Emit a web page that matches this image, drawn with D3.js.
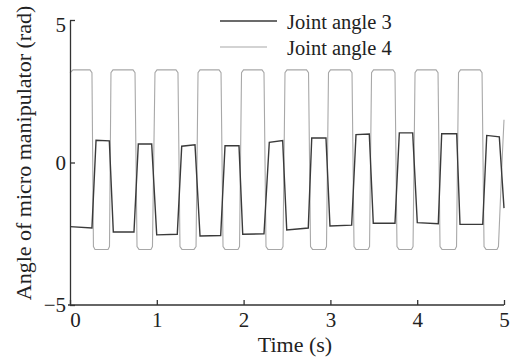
<!DOCTYPE html>
<html>
<head>
<meta charset="utf-8">
<script src="https://cdn.jsdelivr.net/npm/d3@7"></script>
<style>
  html, body { margin: 0; padding: 0; background: #fff; }
  svg { display: block; }
  text { font-family: "Liberation Serif", "Times New Roman", serif; fill: #222; }
</style>
</head>
<body>
<svg id="chart" width="512" height="361"></svg>
<script>
// ---- data ----
const xTicks = [0, 1, 2, 3, 4, 5];
const yTicks = [-5, 0, 5];
const seriesNames = ["Joint angle 3", "Joint angle 4"];

const joint3Time = [0.00, 0.253, 0.30, 0.453, 0.499, 0.737, 0.787, 0.941, 0.999, 1.236, 1.287, 1.440,
  1.498, 1.736, 1.786, 1.947, 1.990, 2.235, 2.296, 2.450, 2.497, 2.745, 2.785, 2.949, 2.995, 3.245,
  3.295, 3.448, 3.494, 3.744, 3.794, 3.948, 4.001, 4.243, 4.282, 4.455, 4.493, 4.755, 4.801, 4.946, 5.00];
const joint3Value = [-2.25, -2.30, 0.78, 0.76, -2.44, -2.44, 0.65, 0.65, -2.54, -2.52, 0.57, 0.62,
  -2.58, -2.56, 0.59, 0.59, -2.52, -2.50, 0.71, 0.77, -2.37, -2.30, 0.86, 0.86, -2.23, -2.20,
  0.98, 1.00, -2.13, -2.13, 1.04, 1.04, -2.11, -2.15, 1.01, 1.01, -2.17, -2.17, 0.95, 0.90, -1.60];

const joint4Time = [0.000, 0.035, 0.230, 0.253, 0.270, 0.288, 0.438, 0.455, 0.472, 0.495, 0.726, 0.749,
  0.772, 0.795, 0.933, 0.950, 0.979, 1.002, 1.221, 1.244, 1.267, 1.290, 1.429, 1.452, 1.475, 1.498,
  1.717, 1.740, 1.763, 1.786, 1.935, 1.953, 1.976, 1.999, 2.212, 2.235, 2.258, 2.281, 2.437, 2.454,
  2.477, 2.500, 2.725, 2.748, 2.771, 2.794, 2.938, 2.955, 2.978, 3.001, 3.226, 3.249, 3.272, 3.295,
  3.433, 3.451, 3.474, 3.497, 3.721, 3.744, 3.767, 3.790, 3.934, 3.952, 3.975, 3.998, 4.217, 4.240,
  4.263, 4.286, 4.435, 4.453, 4.476, 4.499, 4.724, 4.747, 4.770, 4.793, 4.919, 4.936, 4.977, 5.000];
const joint4Value = [3.15, 3.25, 3.25, 3.15, -2.95, -3.05, -3.05, -2.95, 3.15, 3.25, 3.25, 3.15,
  -2.95, -3.05, -3.05, -2.95, 3.15, 3.25, 3.25, 3.15, -2.95, -3.05, -3.05, -2.95, 3.15, 3.25,
  3.25, 3.15, -2.95, -3.05, -3.05, -2.95, 3.15, 3.25, 3.25, 3.15, -2.95, -3.05, -3.05, -2.95,
  3.15, 3.25, 3.25, 3.15, -2.95, -3.05, -3.05, -2.95, 3.15, 3.25, 3.25, 3.15, -2.95, -3.05,
  -3.05, -2.95, 3.15, 3.25, 3.25, 3.15, -2.95, -3.05, -3.05, -2.95, 3.15, 3.25, 3.25, 3.15,
  -2.95, -3.05, -3.05, -2.95, 3.15, 3.25, 3.25, 3.15, -2.95, -3.05, -3.05, -2.95, 0.00, 1.50];

// ---- drawing ----
const svg = d3.select("#chart");
const x = d3.scaleLinear().domain([0, 5]).range([70, 504]);
const y = d3.scaleLinear().domain([-5, 5]).range([305, 20]);

const axisColor = "#333";
const tickFont = 21;
const labelFont = 22;
const legendFont = 20.5;

// lines
const line = d3.line().x(d => x(d[0])).y(d => y(d[1]));
const d4 = joint4Time.map((t, i) => [t, joint4Value[i]]);
const d3s = joint3Time.map((t, i) => [t, joint3Value[i]]);

svg.append("path").datum(d4).attr("d", line)
  .attr("fill", "none").attr("stroke", "#a8a8a8").attr("stroke-width", 1.1);
svg.append("path").datum(d3s).attr("d", line)
  .attr("fill", "none").attr("stroke", "#3a3a3a").attr("stroke-width", 1.4);

// x axis
const xAxis = d3.axisBottom(x).tickValues(xTicks).tickSizeInner(-5).tickSizeOuter(0).tickPadding(7)
  .tickFormat(d3.format("d"));
const gx = svg.append("g").attr("transform", `translate(0,${y(-5)})`).call(xAxis);
gx.select(".domain").attr("stroke", axisColor).attr("stroke-width", 1.3).attr("d", `M${x(0)-2},0H${x(5)}`);
gx.selectAll(".tick line").attr("stroke", axisColor).attr("stroke-width", 1.3);
gx.selectAll(".tick text").attr("font-size", tickFont).attr("font-family", "Liberation Serif").attr("fill", "#222")
  .attr("dx", (d) => d === 0 ? 5 : 0);

// y axis
const yAxis = d3.axisLeft(y).tickValues(yTicks).tickSizeInner(-5).tickSizeOuter(0).tickPadding(4)
  .tickFormat(d => d < 0 ? "\u2212" + Math.abs(d) : String(d));
const gy = svg.append("g").attr("transform", `translate(${x(0)},0)`).call(yAxis);
gy.select(".domain").attr("stroke", axisColor).attr("stroke-width", 1.3);
gy.selectAll(".tick line").attr("stroke", axisColor).attr("stroke-width", 1.3);
gy.selectAll(".tick text").attr("font-size", tickFont).attr("font-family", "Liberation Serif").attr("fill", "#222")
  .attr("dy", d => d === 5 ? "0.55em" : "0.32em");

// axis labels
svg.append("text").attr("x", 295).attr("y", 352).attr("text-anchor", "middle")
  .attr("font-size", labelFont).text("Time (s)");
svg.append("text").attr("transform", "translate(31,153) rotate(-90)").attr("text-anchor", "middle")
  .attr("font-size", labelFont).text("Angle of micro manipulator (rad)");

// legend
const legend = svg.append("g");
const legColors = ["#3a3a3a", "#a8a8a8"];
const legWidths = [1.4, 1.1];
const legLens = [57, 47];
seriesNames.forEach((name, i) => {
  const ly = 21 + i * 26;
  legend.append("line").attr("x1", 220).attr("x2", 220 + legLens[i]).attr("y1", ly).attr("y2", ly)
    .attr("stroke", legColors[i]).attr("stroke-width", legWidths[i]);
  legend.append("text").attr("x", 287).attr("y", ly + 8).attr("font-size", legendFont).text(name);
});
</script>
</body>
</html>
